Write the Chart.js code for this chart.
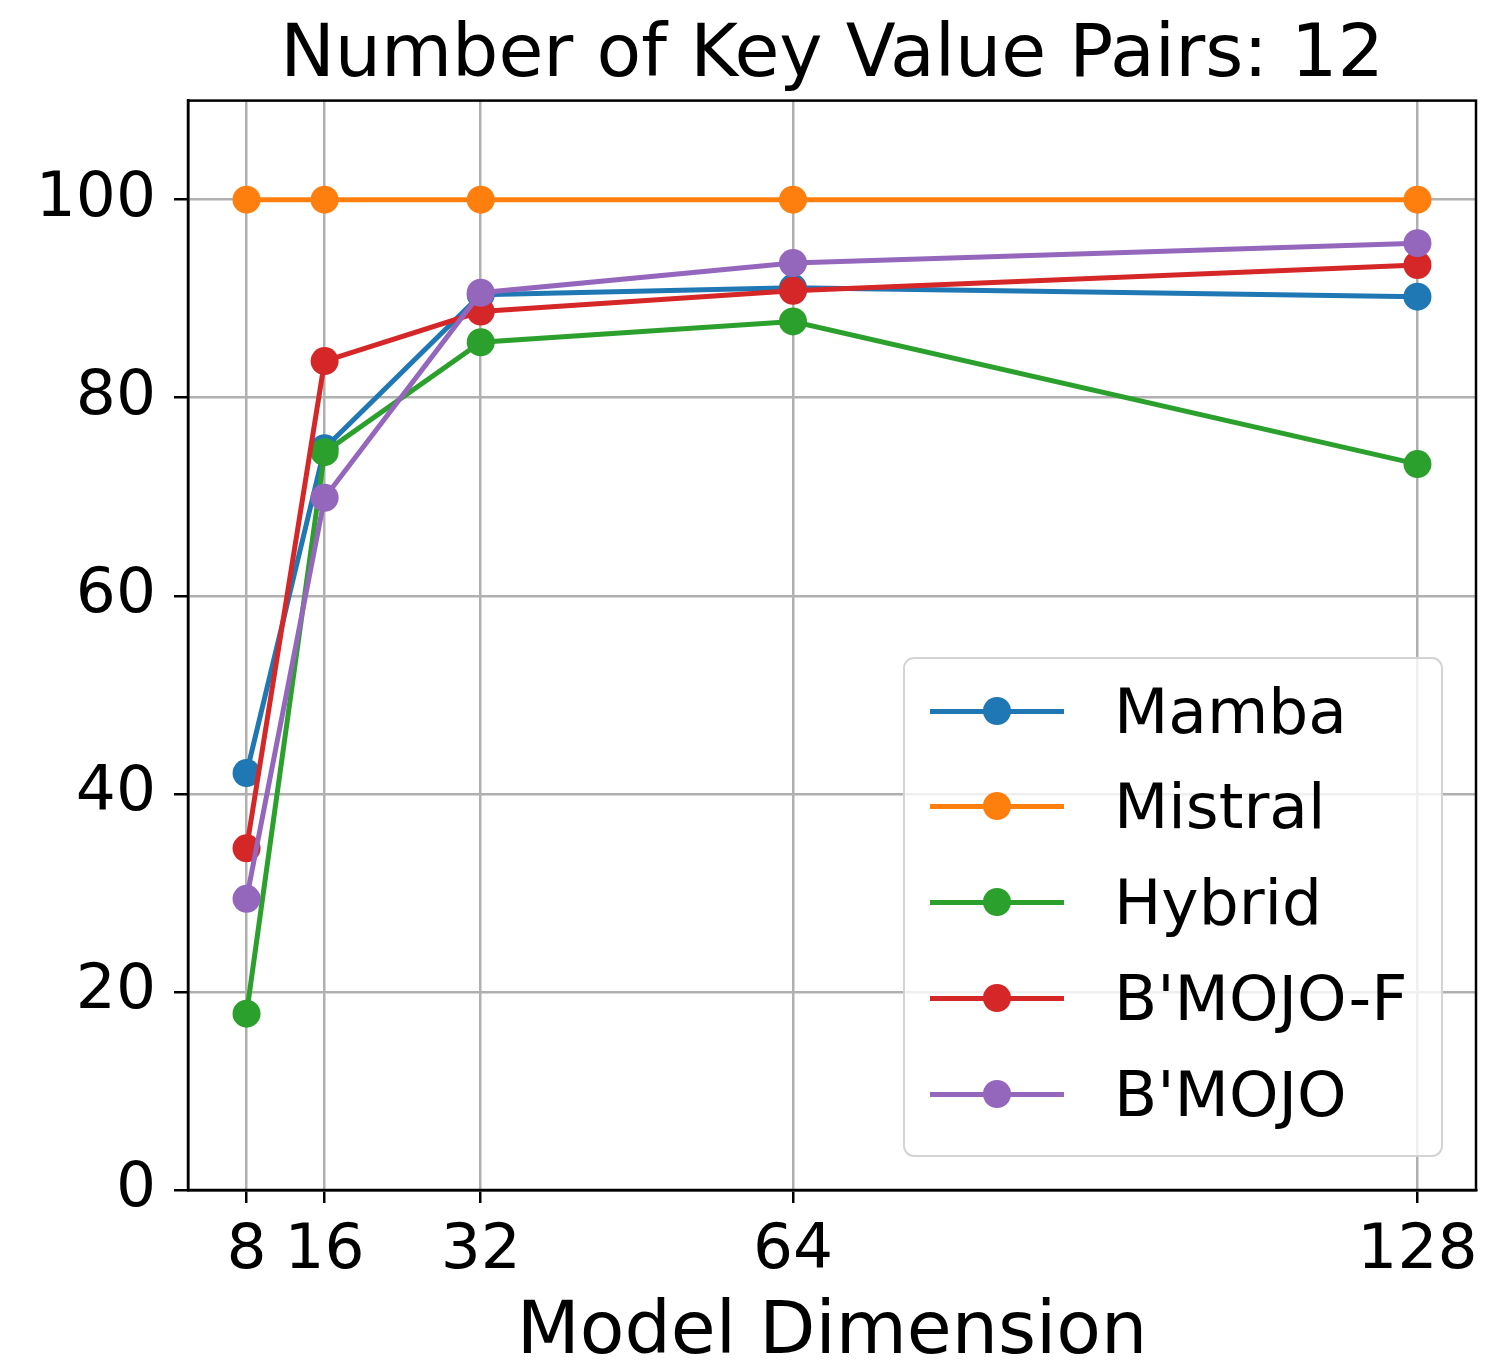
<!DOCTYPE html>
<html>
<head>
<meta charset="utf-8">
<script src="https://cdn.jsdelivr.net/npm/chart.js@4.4.1/dist/chart.umd.min.js"></script>
<style>
  html, body { margin: 0; padding: 0; background: #fff; }
  #wrap { position: relative; width: 1490px; height: 1362px; }
  #c { position: absolute; left: 0; top: 0; }
  #legend {
    position: absolute; left: 903px; top: 657px; width: 536px; height: 496px;
    background: rgba(255,255,255,0.8); border: 2px solid #d4d4d4; border-radius: 11px;
    font-family: "DejaVu Sans", sans-serif; font-size: 63px; color: #000;
  }
  .row { position: absolute; left: 0; height: 0; width: 100%; }
  .ln { position: absolute; left: 25px; width: 134px; height: 5px; top: -2.5px; }
  .dot { position: absolute; left: 78px; width: 28px; height: 28px; top: -14px; border-radius: 50%; }
  .lbl { position: absolute; left: 209px; top: 0; transform: translateY(-50%); line-height: 1; white-space: nowrap; }
</style>
</head>
<body>
<div id="wrap">
  <canvas id="c" width="1490" height="1362"></canvas>
  <div id="legend"></div>
</div>
<script>
// ---- data ----
const modelDims = [8, 16, 32, 64, 128];
const xTicks = [8, 16, 32, 64, 128];
const yTicks = [0, 20, 40, 60, 80, 100];
const seriesNames = ["Mamba", "Mistral", "Hybrid", "B'MOJO-F", "B'MOJO"];
const seriesColors = ["#1f77b4", "#ff7f0e", "#2ca02c", "#d62728", "#9467bd"];
const mamba   = [42.1, 74.9, 90.4, 91.1, 90.2];
const mistral = [100, 100, 100, 100, 100];
const hybrid  = [17.8, 74.5, 85.6, 87.7, 73.3];
const bmojoF  = [34.5, 83.7, 88.7, 90.8, 93.4];
const bmojo   = [29.4, 69.9, 90.6, 93.6, 95.6];
const seriesValues = [mamba, mistral, hybrid, bmojoF, bmojo];
const titleText = "Number of Key Value Pairs: 12";
const xLabel = "Model Dimension";

const FONT = "'DejaVu Sans', sans-serif";

const datasets = seriesNames.map((name, i) => ({
  label: name,
  data: modelDims.map((d, j) => ({ x: d, y: seriesValues[i][j] })),
  borderColor: seriesColors[i],
  backgroundColor: seriesColors[i],
  pointBackgroundColor: seriesColors[i],
  pointBorderWidth: 0,
  pointRadius: 14,
  pointHoverRadius: 14,
  borderWidth: 5,
  showLine: true,
  tension: 0,
  order: seriesNames.length - i,
  clip: false
}));

const framePlugin = {
  id: 'frame',
  afterDatasetsDraw(chart) {
    const a = chart.chartArea, ctx = chart.ctx;
    ctx.save();
    ctx.strokeStyle = '#000';
    ctx.lineWidth = 2.5;
    ctx.strokeRect(a.left, a.top, a.right - a.left, a.bottom - a.top);
    ctx.restore();
  }
};

new Chart(document.getElementById('c'), {
  type: 'scatter',
  data: { datasets },
  plugins: [framePlugin],
  options: {
    responsive: false,
    devicePixelRatio: 1,
    animation: false,
    layout: { padding: { left: 0, right: 14, top: 0, bottom: 0 } },
    plugins: {
      legend: { display: false },
      tooltip: { enabled: false },
      title: {
        display: true, text: titleText, fullSize: false,
        color: '#000',
        font: { family: FONT, size: 73, weight: 'normal', lineHeight: 1.2 },
        padding: { top: 13, bottom: 0 }
      }
    },
    scales: {
      x: {
        type: 'linear', min: 2, max: 134,
        afterBuildTicks: s => { s.ticks = xTicks.map(v => ({ value: v })); },
        afterFit: s => { s.height = 172; },
        ticks: {
          color: '#000', font: { family: FONT, size: 63 }, padding: 11,
          maxRotation: 0, autoSkip: false,
          callback: v => String(v)
        },
        grid: { color: '#b0b0b0', lineWidth: 2.5, tickColor: '#000', tickLength: 13, tickWidth: 2.5 },
        border: { color: '#000', width: 2.5 },
        title: {
          display: true, text: xLabel, color: '#000',
          font: { family: FONT, size: 73, lineHeight: 1.0 },
          padding: { top: 0, bottom: -9 }
        }
      },
      y: {
        type: 'linear', min: 0, max: 110,
        afterBuildTicks: s => { s.ticks = yTicks.map(v => ({ value: v })); },
        afterFit: s => { s.width = 188; },
        ticks: { color: '#000', font: { family: FONT, size: 63 }, padding: 18 },
        grid: { color: '#b0b0b0', lineWidth: 2.5, tickColor: '#000', tickLength: 14, tickWidth: 2.5 },
        border: { color: '#000', width: 2.5 }
      }
    }
  }
});

// ---- legend (real text, built from the series arrays) ----
const legend = document.getElementById('legend');
const rowTops = [52, 147, 243, 339, 435];
seriesNames.forEach((name, i) => {
  const row = document.createElement('div');
  row.className = 'row';
  row.style.top = rowTops[i] + 'px';
  const ln = document.createElement('div'); ln.className = 'ln'; ln.style.background = seriesColors[i];
  const dot = document.createElement('div'); dot.className = 'dot'; dot.style.background = seriesColors[i];
  const lbl = document.createElement('div'); lbl.className = 'lbl'; lbl.textContent = name;
  row.appendChild(ln); row.appendChild(dot); row.appendChild(lbl);
  legend.appendChild(row);
});
</script>
</body>
</html>
